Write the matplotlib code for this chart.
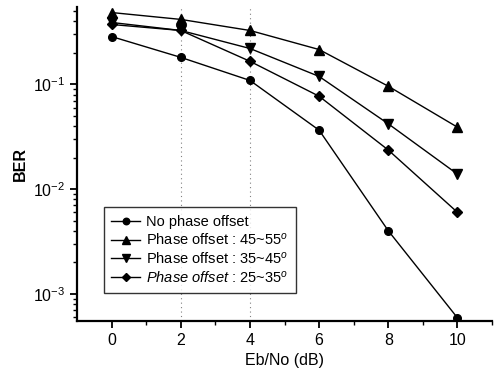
import matplotlib
matplotlib.use("Agg")
import matplotlib.pyplot as plt

plt.rcParams['font.family'] = ['Liberation Sans', 'DejaVu Sans']
plt.rcParams['mathtext.fontset'] = 'custom'
plt.rcParams['mathtext.rm'] = 'Liberation Sans'
plt.rcParams['mathtext.it'] = 'Liberation Sans:italic'

ebno = [0, 2, 4, 6, 8, 10]
ber_none = [0.286, 0.181, 0.109, 0.0365, 0.0040, 0.00059]
ber_45_55 = [0.485, 0.417, 0.327, 0.215, 0.096, 0.039]
ber_35_45 = [0.39, 0.327, 0.22, 0.119, 0.042, 0.0139]
ber_25_35 = [0.373, 0.327, 0.166, 0.077, 0.0236, 0.0060]

labels = ['No phase offset', 'Phase offset : 45~55$^{o}$',
          'Phase offset : 35~45$^{o}$', r'$\it{Phase\ offset}$ : 25~35$^{o}$']

fig = plt.figure(figsize=(4.94, 3.79), dpi=100)
ax = fig.add_axes([0.156, 0.153, 0.84, 0.829])

for x in [2, 4]:
    ax.axvline(x, color='gray', linestyle=(0, (1, 3)), linewidth=0.8, zorder=0)

ax.plot(ebno, ber_none, 'k-o', lw=1, ms=5.5, label=labels[0])
ax.plot(ebno, ber_45_55, 'k-^', lw=1, ms=6.5, label=labels[1])
ax.plot(ebno, ber_35_45, 'k-v', lw=1, ms=6.5, label=labels[2])
ax.plot(ebno, ber_25_35, 'k-D', lw=1, ms=5, label=labels[3])

ax.set_yscale('log')
ax.set_xlim(-1, 11)
ax.set_ylim(5.5e-4, 0.55)
ax.set_xticks(ebno)
ax.set_xticks([1, 3, 5, 7, 9, 11], minor=True)

for s in ['top', 'right']:
    ax.spines[s].set_visible(False)
for s in ['left', 'bottom']:
    ax.spines[s].set_linewidth(1.6)

ax.tick_params(which='major', direction='out', length=5, width=1.3, labelsize=11.5)
ax.tick_params(which='minor', direction='out', length=3, width=1)

ax.set_xlabel('Eb/No (dB)', fontsize=11.5)
ax.set_ylabel('BER', fontsize=11.5, fontweight='bold')

leg = ax.legend(loc='lower left', bbox_to_anchor=(0.065, 0.09), fontsize=10.5,
                frameon=True, fancybox=False, edgecolor='black',
                handlelength=2.0, handletextpad=0.4, labelspacing=0.2,
                borderpad=0.5, borderaxespad=0, markerscale=0.85)
leg.get_frame().set_linewidth(1)

fig.savefig('out.png', dpi=100)
